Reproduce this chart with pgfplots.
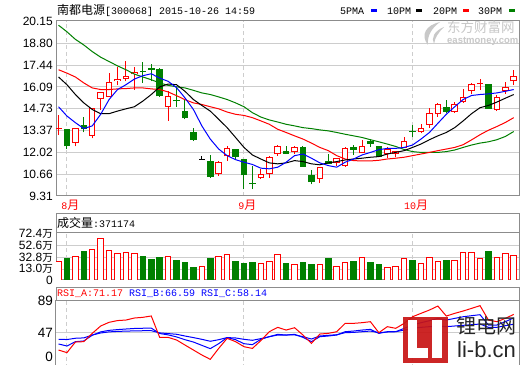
\documentclass[border=0pt]{standalone}
\usepackage{pgfplots}
\pgfplotsset{compat=1.18}
\usepackage{pgfplotstable}
\usepackage{fontspec}
\setmainfont{Liberation Mono}
\newfontfamily\mono{Liberation Mono}
\newfontfamily\sans{Liberation Sans}
\newfontfamily\cjkf{Noto Sans CJK SC}
\newcommand\mo{\fontsize{10bp}{12bp}\mono}
\newcommand\cj{\fontsize{12bp}{12bp}\cjkf}
\definecolor{upred}{RGB}{255,0,0}
\definecolor{dngreen}{RGB}{0,128,0}
\definecolor{mablue}{RGB}{0,0,255}
\definecolor{framegray}{RGB}{140,140,140}
\definecolor{gridgray}{RGB}{205,205,205}
\definecolor{wmgray}{RGB}{200,200,200}
\definecolor{logored}{RGB}{200,20,20}

\pgfplotstableread{
i o h l c
0 13.47 14.32 13.09 13.50
2 12.60 13.56 12.39 13.56
4 13.05 14.80 12.89 14.80
5 15.35 15.76 14.65 15.76
6 15.47 16.95 15.47 16.40
7 16.44 17.32 16.21 16.60
8 16.60 17.71 16.44 16.79
9 16.89 17.36 15.93 17.03
13 14.86 15.86 13.98 15.51
19 10.69 11.51 10.55 11.41
20 11.78 12.44 11.51 12.27
24 10.42 10.96 10.38 10.69
25 10.67 11.82 10.46 11.72
26 11.92 12.48 11.82 12.44
28 12.02 12.44 11.94 12.35
31 10.34 11.10 10.14 11.10
33 11.35 11.70 11.20 11.66
34 11.20 12.33 11.14 12.27
36 11.96 12.78 11.96 12.39
39 11.92 12.37 11.66 12.25
40 11.94 12.11 11.74 12.11
41 12.27 12.95 12.27 12.70
43 13.26 13.77 13.20 13.56
44 13.71 14.80 13.56 14.49
45 14.43 15.10 14.24 15.04
47 14.55 15.15 14.49 15.00
48 15.17 15.96 15.10 15.47
49 15.82 16.33 15.67 16.27
50 16.25 16.60 15.93 16.33
52 14.65 15.56 14.59 15.47
53 15.86 16.38 15.67 16.09
54 16.44 17.16 16.23 16.79
}\up
\pgfplotstableread{
i o h l c
1 13.46 13.46 12.23 12.39
3 13.75 14.24 13.26 13.46
10 17.07 17.65 16.34 17.03
11 17.26 17.49 16.44 17.16
12 17.22 17.26 15.47 15.51
14 15.23 16.03 14.86 15.19
15 14.59 15.31 14.08 14.14
16 13.32 13.56 12.72 12.81
18 11.47 11.86 10.42 10.49
21 12.23 12.23 11.61 11.76
22 11.61 11.61 9.72 10.59
23 10.09 11.20 9.73 10.05
27 12.09 12.44 11.94 11.94
29 12.37 12.44 11.14 11.14
30 10.63 10.94 10.04 10.18
32 11.47 11.92 11.27 11.27
35 12.37 12.48 11.86 12.19
37 12.74 12.84 12.37 12.56
38 12.39 12.44 11.76 11.76
42 13.32 13.71 12.95 13.28
46 14.86 15.31 14.45 14.53
51 16.27 16.27 14.73 14.73
}\down
\pgfplotstableread{
i o h l c
17 11.55 11.82 11.55 11.55
}\flat
\pgfplotstableread{
i b k r g
0 14.86 16.71 17.16 19.93
1 14.28 16.23 16.95 19.52
2 13.87 15.62 16.71 19.05
3 13.50 15.10 16.34 18.70
4 13.67 14.69 16.03 18.29
5 14.39 14.43 15.93 17.94
6 15.31 14.43 15.93 17.67
7 15.93 14.59 15.97 17.40
8 16.23 14.73 15.99 17.16
9 16.58 14.86 16.03 16.89
10 16.79 15.21 16.03 16.71
11 16.91 15.62 15.97 16.54
12 16.64 16.09 15.93 16.34
13 16.44 16.27 15.78 16.19
14 16.05 16.23 15.55 16.10
15 15.41 15.82 15.30 16.03
16 14.69 15.31 15.10 15.88
17 13.67 14.94 15.00 15.72
18 12.85 14.59 14.86 15.62
19 12.23 14.08 14.73 15.47
20 11.82 13.56 14.53 15.31
21 11.57 12.95 14.39 15.10
22 11.41 12.33 14.32 14.86
23 11.27 11.86 14.18 14.49
24 11.04 11.61 13.98 14.22
25 11.00 11.37 13.77 14.04
26 11.10 11.31 13.46 13.91
27 11.41 11.37 13.26 13.77
28 11.82 11.51 13.05 13.67
29 11.92 11.45 12.85 13.56
30 11.66 11.31 12.60 13.50
31 11.37 11.25 12.33 13.42
32 11.20 11.37 12.13 13.36
33 11.10 11.45 11.82 13.26
34 11.41 11.55 11.61 13.15
35 11.61 11.61 11.51 13.05
36 11.86 11.66 11.49 12.95
37 12.02 11.72 11.49 12.81
38 12.19 11.76 11.53 12.68
39 12.27 11.92 11.61 12.54
40 12.27 12.02 11.66 12.39
41 12.33 12.13 11.72 12.20
42 12.48 12.33 11.82 12.07
43 12.85 12.54 11.92 12.02
44 13.26 12.81 12.02 12.02
45 13.83 13.05 12.13 12.02
46 14.39 13.26 12.23 12.07
47 14.86 13.56 12.33 12.17
48 15.31 13.98 12.50 12.33
49 15.56 14.43 12.80 12.48
50 15.62 14.80 13.12 12.60
51 15.66 14.94 13.40 12.68
52 15.72 15.15 13.63 12.81
53 15.82 15.39 13.88 13.01
54 15.93 15.62 14.18 13.32
}\ma
\pgfplotstableread{
i v
0 26.7
2 35.2
4 47.1
5 65.8
6 45.4
7 40.3
8 42.0
9 40.3
13 35.2
17 18.7
19 35.2
20 38.6
24 23.8
25 27.2
26 38.6
28 21.6
31 21.6
33 18.7
34 25.0
36 33.5
39 17.0
40 18.2
41 31.8
43 23.3
44 33.5
45 27.2
47 28.4
48 42.0
49 42.0
50 32.3
52 33.5
53 40.3
54 37.1
}\vup
\pgfplotstableread{
i v
1 31.3
3 44.2
10 35.7
11 29.6
12 34.0
14 28.9
15 25.5
16 17.0
18 31.3
21 27.2
22 23.8
23 25.5
27 23.8
29 25.5
30 22.1
32 32.3
35 27.2
37 25.5
38 22.1
42 28.9
46 28.9
51 44.2
}\vdown
\pgfplotstableread{
i a b c
0 23.9 31.9 38.1
1 20.4 29.2 37.8
2 34.5 35.0 39.5
3 35.0 35.9 40.0
4 46.0 43.5 43.8
5 55.8 48.0 46.5
6 60.7 50.0 48.0
7 63.0 51.0 48.6
8 63.7 51.8 49.0
9 66.4 52.5 49.3
10 67.3 52.8 49.5
11 69.1 53.0 49.6
12 40.7 45.8 46.6
13 40.7 44.0 45.7
14 37.2 41.3 44.8
15 30.5 37.6 42.5
16 23.9 34.5 40.4
17 17.3 30.1 38.1
18 11.5 25.7 35.5
19 26.0 32.3 37.6
20 39.4 40.4 40.4
21 35.0 37.6 39.9
22 28.3 32.3 38.1
23 26.0 31.0 36.8
24 36.4 38.1 39.0
25 48.2 41.6 41.6
26 54.0 44.7 43.8
27 50.4 43.8 43.8
28 53.5 44.7 44.0
29 43.8 40.7 41.6
30 32.7 35.0 38.5
31 45.1 41.6 42.5
32 46.0 42.5 43.4
33 48.2 43.8 44.2
34 59.3 48.2 46.9
35 59.3 49.1 47.3
36 60.2 50.4 48.2
37 61.5 51.3 49.1
38 46.9 46.0 46.9
39 54.9 48.2 47.8
40 52.7 48.2 48.2
41 59.3 52.7 50.4
42 68.1 57.1 52.7
43 72.6 60.2 54.0
44 77.0 62.8 54.9
45 82.3 65.9 55.8
46 69.0 63.7 54.9
47 72.6 65.9 55.8
48 75.7 68.1 56.7
49 79.2 69.5 57.5
50 82.8 70.8 58.4
51 63.7 57.1 54.0
52 61.5 57.1 54.0
53 65.9 61.5 56.2
54 71.17 66.59 58.14
}\rsi

\pgfplotsset{
  panel/.style={scale only axis, width=463.3bp, xmin=-0.3, xmax=54.66,
    axis line style={draw=framegray, line width=1bp},
    tick style={draw=none}, xtick={1,22,42}, xmajorgrids, ymajorgrids,
    x grid style={draw=gridgray, dash pattern=on 4bp off 3bp, line width=1bp},
    y grid style={draw=gridgray, line width=1bp},
    yticklabel style={inner sep=0pt, xshift=-3bp, text=black},
  },
  eb/.style n args={2}{draw=none, mark=none, forget plot,
    /pgfplots/error bars/y dir=plus, /pgfplots/error bars/y explicit,
    /pgfplots/error bars/error mark=none,
    /pgfplots/error bars/error bar style={draw=#1, line width=#2, solid}},
}

\begin{document}
\begin{tikzpicture}
\useasboundingbox (0,0) rectangle (520bp,365bp);
\fill[white] (0,0) rectangle (520bp,365bp);

% ---------- main candlestick panel ----------
\begin{axis}[panel, at={(56bp,169bp)}, anchor=south west, height=175.3bp,
  ymin=9.31, ymax=20.21,
  ytick={10.66,12.02,13.37,14.73,16.09,17.44,18.80},
  extra y ticks={9.31,20.15}, extra y tick style={grid=none},
  yticklabel style={font=\fontsize{12bp}{12bp}\sans, /pgf/number format/.cd, fixed, fixed zerofill, precision=2, assume math mode=true},
  xticklabels={{8{\cj 月}},{9{\cj 月}},{10{\cj 月}}},
  xticklabel style={font=\mo, text=upred, anchor=north, inner sep=0pt, yshift=-4bp, xshift=3.5bp},
]
% wicks
\addplot[eb={upred}{1bp}] table[x=i, y=l, y error plus expr=\thisrow{h}-\thisrow{l}] {\up};
\addplot[eb={dngreen}{1bp}] table[x=i, y=l, y error plus expr=\thisrow{h}-\thisrow{l}] {\down};
\addplot[eb={black}{1bp}] table[x=i, y=l, y error plus expr=\thisrow{h}-\thisrow{l}] {\flat};
% bodies
\addplot[eb={upred}{6.5bp}] table[x=i, y=o, y error plus expr={max(\thisrow{c}-\thisrow{o},0.062)}] {\up};
\addplot[eb={white}{4.5bp}] table[x=i, y expr=\thisrow{o}+0.062, y error plus expr={max(\thisrow{c}-\thisrow{o}-0.124,0)}] {\up};
\addplot[eb={dngreen}{6.5bp}] table[x=i, y=c, y error plus expr={max(\thisrow{o}-\thisrow{c},0.062)}] {\down};
\addplot[eb={black}{6.5bp}] table[x=i, y=o, y error plus expr=0.062] {\flat};
% moving averages
\addplot[dngreen, line width=1bp, mark=none] table[x=i, y=g] {\ma};
\addplot[upred, line width=1bp, mark=none] table[x=i, y=r] {\ma};
\addplot[black, line width=1bp, mark=none] table[x=i, y=k] {\ma};
\addplot[mablue, line width=1bp, mark=none] table[x=i, y=b] {\ma};
\end{axis}

% ---------- volume panel ----------
\draw[framegray, line width=1bp] (56bp,132.7bp) rectangle (519.3bp,151bp);
\node[anchor=west, inner sep=0pt] at (57bp,142bp) {{\cj 成交量}\mo:371174};
\begin{axis}[panel, at={(56bp,85bp)}, anchor=south west, height=47.7bp,
  ymin=-5.6, ymax=75.5,
  ytick={13.0,32.8,52.6},
  yticklabels={{13.0{\fontsize{10.5bp}{12bp}\cjkf 万}},{32.8{\fontsize{10.5bp}{12bp}\cjkf 万}},{52.6{\fontsize{10.5bp}{12bp}\cjkf 万}}},
  extra y ticks={-5.6,72.4}, extra y tick style={grid=none},
  extra y tick labels={0,{72.4{\fontsize{10.5bp}{12bp}\cjkf 万}}},
  yticklabel style={font=\fontsize{12bp}{12bp}\sans},
  xticklabels={},
]
\addplot[eb={upred}{6.5bp}] table[x=i, y expr=-5.6, y error plus expr=\thisrow{v}+5.6] {\vup};
\addplot[eb={white}{4.5bp}] table[x=i, y expr=-5.6, y error plus expr=\thisrow{v}+5.6-1.7] {\vup};
\addplot[eb={dngreen}{6.5bp}] table[x=i, y expr=-5.6, y error plus expr=\thisrow{v}+5.6] {\vdown};
\end{axis}

% ---------- RSI panel ----------
\draw[framegray, line width=1bp] (56bp,64.3bp) rectangle (519.3bp,77.7bp);
\node[anchor=west, inner sep=0pt] at (57bp,71bp) {\mo\textcolor{upred}{RSI\_A:71.17} \textcolor{mablue}{RSI\_B:66.59 RSI\_C:58.14}};
\begin{axis}[panel, at={(56bp,-3bp)}, anchor=south west, height=67.3bp,
  ymin=0, ymax=89.4,
  ytick={47}, extra y ticks={0,89}, extra y tick style={grid=none},
  extra y tick labels={\smash{\raisebox{7bp}{0}},89},
  yticklabel style={font=\fontsize{13.5bp}{14bp}\sans, /pgf/number format/assume math mode=true},
  xticklabels={},
]
\addplot[mablue, line width=1bp, mark=none] table[x=i, y=c] {\rsi};
\addplot[mablue, line width=1bp, mark=none] table[x=i, y=b] {\rsi};
\addplot[upred, line width=1bp, mark=none] table[x=i, y=a] {\rsi};
\end{axis}

% ---------- title and legend ----------
\node[anchor=west, inner sep=0pt] at (57bp,354bp) {{\cj 南都电源}\mo[300068] 2015-10-26 14:59};
\node[anchor=west, inner sep=0pt] at (340bp,354bp) {\mo 5PMA};
\fill[mablue] (371bp,353bp) rectangle (377bp,355.7bp);
\node[anchor=west, inner sep=0pt] at (387bp,354bp) {\mo 10PM};
\fill[black] (416bp,353bp) rectangle (422bp,355.7bp);
\node[anchor=west, inner sep=0pt] at (433bp,354bp) {\mo 20PM};
\fill[upred] (463bp,353bp) rectangle (469bp,355.7bp);
\node[anchor=west, inner sep=0pt] at (478bp,354bp) {\mo 30PM};
\fill[dngreen] (509bp,353bp) rectangle (515bp,355.7bp);

% ---------- watermarks ----------
\fill[wmgray] (440bp,343bp) .. controls (426bp,340bp) and (420bp,330bp) .. (428bp,320bp)
   .. controls (427bp,330bp) and (432bp,337bp) .. cycle;
\fill[wmgray] (444bp,338bp) .. controls (434bp,334bp) and (431bp,327bp) .. (434bp,321bp)
   .. controls (435bp,328bp) and (439bp,333bp) .. cycle;
\node[anchor=north west, inner sep=0pt, text=wmgray] at (447bp,344bp) {\fontsize{13.5bp}{14bp}\cjkf 东方财富网};
\node[anchor=north west, inner sep=0pt, text=wmgray] at (447bp,328bp) {\fontsize{9.5bp}{10bp}\sans\bfseries eastmoney.com};

\fill[logored, opacity=0.92] (403.3bp,1.7bp) rectangle (448.3bp,48.3bp);
\fill[white] (408.3bp,6.7bp) rectangle (416.7bp,45bp);
\fill[white] (408.3bp,6.7bp) rectangle (428.3bp,16.7bp);
\fill[white] (431.7bp,6.7bp) rectangle (441.7bp,45bp);
\node[anchor=north west, inner sep=0pt, text=black!85] at (456bp,48bp) {\fontsize{20bp}{20bp}\cjkf 锂电网};
\node[anchor=north west, inner sep=0pt, text=black!85] at (457bp,24bp) {\fontsize{22bp}{22bp}\sans li-b.cn};
\end{tikzpicture}
\end{document}
